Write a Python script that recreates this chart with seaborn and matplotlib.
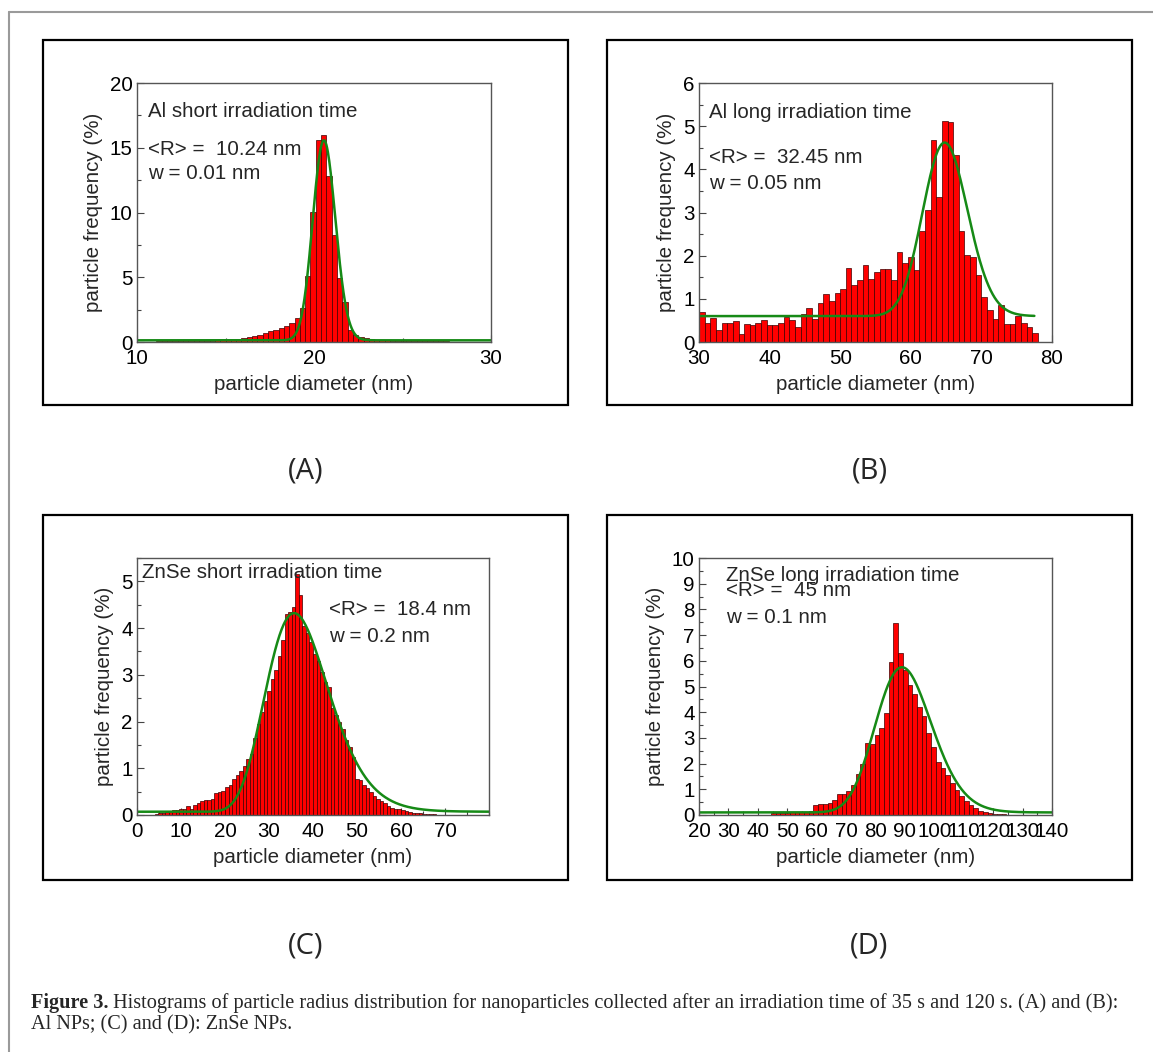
import matplotlib.pyplot as plt
import numpy as np
import pandas as pd
import seaborn as sns
from matplotlib.patches import Rectangle
from matplotlib.ticker import MultipleLocator

# ---- binned histograms: first bin edge, bin width, particle frequency (%) ----
a_start, a_width = 11.1, 0.3
a_freq = [0.06, 0.06, 0.07, 0.07, 0.08, 0.08, 0.09, 0.09, 0.10, 0.10,
          0.10, 0.12, 0.13, 0.16, 0.21, 0.26, 0.33, 0.40, 0.46, 0.54,
          0.67, 0.82, 0.95, 1.08, 1.23, 1.47, 1.85, 2.63, 5.12, 10.04,
          15.57, 15.96, 12.80, 8.24, 4.97, 3.09, 0.95, 0.57, 0.39, 0.28,
          0.20, 0.18, 0.15, 0.12, 0.10, 0.10, 0.09, 0.08, 0.08, 0.07,
          0.06, 0.06, 0.05, 0.05, 0.04]

b_start, b_width = 30.0, 0.8
b_freq = [0.70, 0.45, 0.56, 0.28, 0.45, 0.45, 0.48, 0.18, 0.42, 0.40,
          0.43, 0.50, 0.39, 0.39, 0.45, 0.57, 0.50, 0.35, 0.64, 0.79,
          0.54, 0.91, 1.12, 0.95, 1.14, 1.23, 1.72, 1.33, 1.43, 1.79,
          1.47, 1.62, 1.69, 1.69, 1.44, 2.08, 1.83, 1.97, 1.66, 2.57,
          3.05, 4.69, 3.37, 5.12, 5.09, 4.34, 2.57, 2.01, 1.97, 1.55,
          1.04, 0.73, 0.54, 0.85, 0.42, 0.42, 0.60, 0.45, 0.35, 0.20]

c_start, c_width = 4.0, 0.8
c_freq = [0.03, 0.05, 0.05, 0.07, 0.08, 0.10, 0.10, 0.12, 0.12, 0.20,
          0.12, 0.22, 0.25, 0.30, 0.32, 0.33, 0.35, 0.47, 0.50, 0.52,
          0.60, 0.65, 0.78, 0.85, 0.95, 1.05, 1.20, 1.30, 1.65, 1.95,
          2.20, 2.45, 2.65, 2.90, 3.10, 3.40, 3.75, 4.30, 4.35, 4.45,
          5.15, 4.70, 4.05, 3.90, 3.70, 3.45, 3.30, 3.05, 2.85, 2.75,
          2.30, 2.15, 2.00, 1.85, 1.60, 1.45, 1.25, 0.78, 0.75, 0.65,
          0.58, 0.50, 0.40, 0.35, 0.30, 0.25, 0.20, 0.15, 0.12, 0.12,
          0.10, 0.08, 0.06, 0.05, 0.05, 0.04, 0.03, 0.03, 0.02, 0.02]

d_start, d_width = 44.5, 1.6
d_freq = [0.06, 0.07, 0.08, 0.08, 0.10, 0.10, 0.10, 0.12, 0.15, 0.40,
          0.42, 0.42, 0.45, 0.60, 0.80, 0.80, 0.93, 1.17, 1.60, 2.00,
          2.80, 2.77, 3.10, 3.40, 3.95, 5.97, 7.47, 6.30, 5.65, 5.06,
          4.70, 4.20, 3.86, 3.20, 2.66, 2.08, 1.82, 1.56, 1.23, 0.97,
          0.74, 0.55, 0.39, 0.26, 0.17, 0.10, 0.07, 0.05, 0.04, 0.03]

# ---- log-normal fits: centre, log width, peak height above base, base, x range ----
a_fit = [20.56, 0.031, 15.45, 0.13, 10, 30]
b_fit = [64.8, 0.049, 4.02, 0.60, 30, 77.5]
c_fit = [35.7, 0.200, 4.25, 0.07, 0, 80]
d_fit = [89.0, 0.107, 5.65, 0.10, 20, 140]

a_notes = ["Al short irradiation time", "<R> =  10.24 nm", "w = 0.01 nm"]
b_notes = ["Al long irradiation time", "<R> =  32.45 nm", "w = 0.05 nm"]
c_notes = ["ZnSe short irradiation time", "<R> =  18.4 nm", "w = 0.2 nm"]
d_notes = ["ZnSe long irradiation time", "<R> =  45 nm", "w = 0.1 nm"]

panel_letters = ["(A)", "(B)", "(C)", "(D)"]
caption_bold = "Figure 3."
caption_1 = (" Histograms of particle radius distribution for nanoparticles collected "
             "after an irradiation time of 35 s and 120 s. (A) and (B):")
caption_2 = "Al NPs; (C) and (D): ZnSe NPs."

sns.set_style("ticks")
plt.rcParams['font.family'] = ['Liberation Sans', 'DejaVu Sans']

W, H = 1153, 1052
fig = plt.figure(figsize=(W / 100, H / 100), dpi=100)


def fx(x):
    return x / W


def fy(y):
    return 1 - y / H


# outer grey frame of the page
fig.add_artist(plt.Line2D([fx(9), fx(9)], [fy(12), fy(1052)], color='#9a9a9a', lw=1.5))
fig.add_artist(plt.Line2D([fx(9), fx(1153)], [fy(12), fy(12)], color='#9a9a9a', lw=1.5))

FS = 14.8

panels = [
    # data, start, width, fit, notes, axes px box, xlim, ylim, xmaj, xmin, ymaj, ymin, note pos
    (a_freq, a_start, a_width, a_fit, a_notes, (137, 83, 491, 342), (10, 30), (0, 20), 10, 5, 5, 2.5,
     [(0.031, 0.89), (0.031, 0.745), (0.031, 0.65)]),
    (b_freq, b_start, b_width, b_fit, b_notes, (699, 83, 1052, 342), (30, 80), (0, 6), 10, 5, 1, 0.5,
     [(0.028, 0.886), (0.028, 0.713), (0.028, 0.612)]),
    (c_freq, c_start, c_width, c_fit, c_notes, (137, 558, 489, 815), (0, 80), (0, 5.5), 10, 5, 1, 0.5,
     [(0.013, 0.942), (0.545, 0.798), (0.545, 0.696)]),
    (d_freq, d_start, d_width, d_fit, d_notes, (699, 558, 1052, 815), (20, 140), (0, 10), 10, 5, 1, 0.5,
     [(0.076, 0.93), (0.076, 0.872), (0.076, 0.77)]),
]

boxes = [(43, 40, 568, 405), (607, 40, 1132, 405), (43, 515, 568, 880), (607, 515, 1132, 880)]

for (freq, start, width, fit, notes, rect, xlim, ylim, xmaj, xmin, ymaj, ymin, npos), box, letter in zip(
        panels, boxes, panel_letters):
    # panel frame
    x0, y0, x1, y1 = box
    fig.add_artist(Rectangle((fx(x0), fy(y1)), fx(x1 - x0), (y1 - y0) / H, fill=False,
                             edgecolor='black', lw=1.6))
    fig.text(fx((x0 + x1) / 2), fy(y1 + 66), letter, ha='center', va='center',
             fontsize=21, family=['Open Sans', 'DejaVu Sans'])

    l, t, r, b = rect
    ax = fig.add_axes([fx(l), fy(b), (r - l) / W, (b - t) / H])

    n = len(freq)
    centers = [start + width * (i + 0.5) for i in range(n)]
    df = pd.DataFrame({'diameter': centers, 'freq': freq})
    sns.histplot(data=df, x='diameter', weights='freq', binwidth=width,
                 binrange=(start, start + width * n), ax=ax,
                 color='#ff0000', edgecolor='#3c0000', linewidth=0.5, alpha=1.0)

    xc, w, h, base, xa, xb = fit
    xs = np.linspace(xa, xb, 500)
    ys = base + h * np.exp(-np.log(xs / xc) ** 2 / (2 * w ** 2))
    sns.lineplot(x=xs, y=ys, ax=ax, color='#168a16', lw=1.8)

    ax.set_xlim(*xlim)
    ax.set_ylim(*ylim)
    ax.xaxis.set_major_locator(MultipleLocator(xmaj))
    ax.xaxis.set_minor_locator(MultipleLocator(xmin))
    ax.yaxis.set_major_locator(MultipleLocator(ymaj))
    ax.yaxis.set_minor_locator(MultipleLocator(ymin))
    ax.tick_params(which='both', direction='in', colors='#444444', labelcolor='black',
                   labelsize=FS, width=0.8)
    ax.tick_params(which='major', length=5)
    ax.tick_params(which='minor', length=3)
    ax.tick_params(axis='x', pad=5)
    ax.tick_params(axis='y', pad=3)
    for s in ax.spines.values():
        s.set_color('#555555')
        s.set_linewidth(1.0)

    # Origin hides the last tick label at the right end of panel C
    if xlim == (0, 80):
        ax.set_xticks(np.arange(0, 80, 10))

    ax.set_xlabel("particle diameter (nm)", fontsize=FS, labelpad=5)
    ax.set_ylabel("particle frequency (%)", fontsize=FS, labelpad=5)

    for txt, (px, py) in zip(notes, npos):
        ax.text(px, py, txt, transform=ax.transAxes, fontsize=FS, ha='left', va='center')

# caption
CFS = 14.6
cap = fig.text(fx(31), fy(1003), caption_bold, fontsize=CFS, fontweight='bold',
               family=['Liberation Serif', 'DejaVu Serif'], ha='left', va='center')
fig.canvas.draw()
bb = cap.get_window_extent()
fig.text(bb.x1 / W, fy(1003), caption_1, fontsize=CFS,
         family=['Liberation Serif', 'DejaVu Serif'], ha='left', va='center')
fig.text(fx(31), fy(1025), caption_2, fontsize=CFS,
         family=['Liberation Serif', 'DejaVu Serif'], ha='left', va='center')

fig.savefig('out.png', dpi=100)
